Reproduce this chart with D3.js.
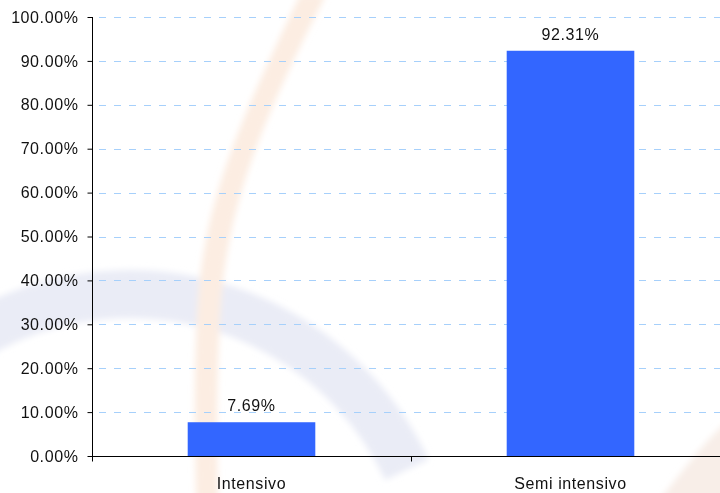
<!DOCTYPE html>
<html>
<head>
<meta charset="utf-8">
<script src="https://cdn.jsdelivr.net/npm/d3@7/dist/d3.min.js"></script>
<style>
  html, body { margin: 0; padding: 0; background: #ffffff; }
  svg { display: block; }
  text { font-family: "Liberation Sans", Arial, Helvetica, sans-serif; fill: #111; letter-spacing: 0.6px; }
</style>
</head>
<body>
<svg id="chart" width="720" height="493"></svg>
<script>
// Share of farms by production system
const categories = ["Intensivo", "Semi intensivo"];
const values = [7.69, 92.31];
const yTicks = [0, 10, 20, 30, 40, 50, 60, 70, 80, 90, 100];

const W = 720, H = 493;
const margin = { left: 92, top: 17, bottom: 37 };
const plotRight = 730;

const svg = d3.select("#chart");

// soft-edged logo watermark behind the plot
svg.append("defs").append("filter")
  .attr("id", "soft")
  .attr("x", "-20%").attr("y", "-20%").attr("width", "140%").attr("height", "140%")
  .append("feGaussianBlur").attr("stdDeviation", 3);

const wm = svg.append("g").attr("class", "watermark").attr("filter", "url(#soft)");
wm.append("path")
  .attr("d", d3.arc()({ innerRadius: 282, outerRadius: 330, startAngle: -Math.PI * 0.42, endAngle: Math.PI * 0.36 }))
  .attr("transform", "translate(130,600)")
  .attr("fill", "#eaecf6");
wm.append("path")
  .attr("d", "M300,-5 C 240,120 205,200 198,300 C 193,380 195,440 196,500 L 218,500 C 217,440 216,380 221,300 C 230,200 262,120 326,-5 Z")
  .attr("fill", "#fcede2");
wm.append("path")
  .attr("d", "M660,500 C 690,460 715,430 730,420 L 730,500 Z")
  .attr("fill", "#f8eee8");

const x = d3.scaleBand()
  .domain(categories)
  .range([margin.left, plotRight])
  .paddingInner(0.6)
  .paddingOuter(0.3);

const y = d3.scaleLinear()
  .domain([0, 100])
  .range([H - margin.bottom, margin.top]);

// dashed horizontal gridlines
svg.append("g")
  .selectAll("line")
  .data(yTicks.filter(d => d > 0))
  .join("line")
  .attr("x1", margin.left + 7)
  .attr("x2", W)
  .attr("y1", d => Math.round(y(d)) + 0.5)
  .attr("y2", d => Math.round(y(d)) + 0.5)
  .attr("stroke", "#a6d0fb")
  .attr("stroke-width", 1)
  .attr("stroke-dasharray", "7,8");

// bars
svg.append("g")
  .selectAll("rect")
  .data(values)
  .join("rect")
  .attr("x", (d, i) => x(categories[i]))
  .attr("width", x.bandwidth())
  .attr("y", d => y(d))
  .attr("height", d => y(0) - y(d))
  .attr("fill", "#3366ff");

// value labels
svg.append("g")
  .selectAll("text")
  .data(values)
  .join("text")
  .attr("x", (d, i) => x(categories[i]) + x.bandwidth() / 2)
  .attr("y", d => y(d) - 11)
  .attr("text-anchor", "middle")
  .attr("font-size", 16)
  .text(d => d.toFixed(2) + "%");

// y axis
const yAxis = d3.axisLeft(y)
  .tickValues(yTicks)
  .tickSize(5)
  .tickPadding(9)
  .tickFormat(d => d.toFixed(2) + "%");
const gy = svg.append("g")
  .attr("transform", `translate(${margin.left + 0.5},0)`)
  .call(yAxis);
gy.select(".domain").attr("stroke", "#000").attr("d", `M0,${y(100)}V${y(0)}`);
gy.selectAll(".tick line").attr("stroke", "#000");
gy.selectAll(".tick text")
  .attr("font-size", 16)
  .attr("font-family", "Liberation Sans, Arial, sans-serif")
  .attr("fill", "#111");

// x axis with ticks at category boundaries
const step = x.step();
const boundaries = [x(categories[0]) - step * 0.3, x(categories[1]) - step * 0.3];
const gx = svg.append("g")
  .attr("transform", `translate(0,${Math.round(y(0)) + 0.5})`);
gx.append("line")
  .attr("x1", margin.left).attr("x2", W)
  .attr("stroke", "#000");
gx.selectAll("line.tick")
  .data(boundaries)
  .join("line")
  .attr("class", "tick")
  .attr("x1", d => Math.round(d) + 0.5).attr("x2", d => Math.round(d) + 0.5)
  .attr("y1", 0).attr("y2", 5)
  .attr("stroke", "#000");
gx.selectAll("text")
  .data(categories)
  .join("text")
  .attr("x", d => x(d) + x.bandwidth() / 2)
  .attr("y", 32)
  .attr("text-anchor", "middle")
  .attr("font-size", 16)
  .text(d => d);
</script>
</body>
</html>
